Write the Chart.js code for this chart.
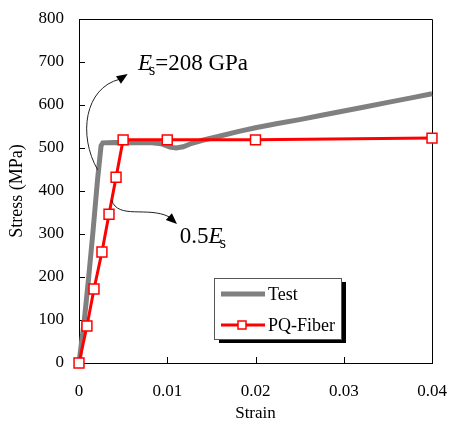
<!DOCTYPE html>
<html>
<head>
<meta charset="utf-8">
<script src="https://cdn.jsdelivr.net/npm/chart.js@4.4.1/dist/chart.umd.min.js"></script>
<style>
    body { margin: 0; background: #fff; }
    #wrap { width: 451px; height: 424px; }
</style>
</head>
<body>
<div id="wrap"><canvas id="stressStrainChart" width="451" height="424"></canvas></div>
<script>
// Test curve
const testStrain = [0, 0.0003, 0.00057, 0.0011, 0.0016, 0.0021, 0.0025, 0.0027, 0.004, 0.006, 0.008, 0.0093,
    0.0103, 0.011, 0.0118, 0.0128, 0.014, 0.016, 0.018, 0.02, 0.0225, 0.025, 0.0275, 0.03, 0.0325, 0.035,
    0.0375, 0.04, 0.0409];
const testStress = [0, 50, 93, 200, 309, 426, 505, 512, 513, 512, 513, 510,
    502, 500, 503, 511, 518, 528, 538, 547, 557, 566, 576, 586, 596, 606,
    616, 626, 630];

// PQ-Fiber model
const pqStrain = [0, 0.0009, 0.0017, 0.0026, 0.0034, 0.0042, 0.005, 0.01, 0.02, 0.04];
const pqStress = [0, 86, 172, 258, 346, 432, 519, 519, 519, 523];

const strainTicks = [0, 0.01, 0.02, 0.03, 0.04];
const stressTicks = [0, 100, 200, 300, 400, 500, 600, 700, 800];

const serif = "'Liberation Serif', 'Times New Roman', serif";
Chart.defaults.font.family = serif;
Chart.defaults.color = '#000';

// Annotation arrows, in data units (cubic curve + arrow tip)
const annotations = [
    {
        curve: [[0.00212, 449], [-0.00015, 530], [0.00065, 640], [0.00462, 660]],
        tip: [0.00552, 672],
        text: { at: [0.00668, 682], before: '', italic: 'E', sub: 's', after: '=208 GPa' }
    },
    {
        curve: [[0.0037, 379], [0.0044, 333], [0.0078, 365], [0.0102, 340]],
        tip: [0.0111, 323],
        text: { at: [0.01143, 279], before: '0.5', italic: 'E', sub: 's', after: '' }
    }
];

function toPx(chart, p) {
    return [chart.scales.x.getPixelForValue(p[0]), chart.scales.y.getPixelForValue(p[1])];
}

// Frame and inward ticks
const framePlugin = {
    id: 'frame',
    beforeDatasetsDraw(chart) {
        const { ctx, chartArea: a, scales } = chart;
        ctx.save();
        ctx.strokeStyle = '#000';
        ctx.lineWidth = 1;
        ctx.beginPath();
        ctx.moveTo(a.left, a.top + 0.5);
        ctx.lineTo(a.right + 0.5, a.top + 0.5);
        ctx.lineTo(a.right + 0.5, a.bottom);
        strainTicks.forEach(v => {
            const x = Math.round(scales.x.getPixelForValue(v)) + 0.5;
            ctx.moveTo(x, a.bottom);
            ctx.lineTo(x, a.bottom - 6);
        });
        stressTicks.forEach(v => {
            const y = Math.round(scales.y.getPixelForValue(v)) + 0.5;
            ctx.moveTo(a.left, y);
            ctx.lineTo(a.left + 6, y);
        });
        ctx.stroke();
        ctx.restore();
    }
};

function drawModulusText(ctx, x, y, t) {
    ctx.textBaseline = 'alphabetic';
    ctx.textAlign = 'left';
    ctx.font = '23px ' + serif;
    ctx.fillText(t.before, x, y);
    x += ctx.measureText(t.before).width;
    ctx.font = 'italic 23px ' + serif;
    ctx.fillText(t.italic, x, y);
    x += ctx.measureText(t.italic).width - 3;
    ctx.font = '16px ' + serif;
    ctx.fillText(t.sub, x, y + 5);
    x += ctx.measureText(t.sub).width;
    ctx.font = '23px ' + serif;
    ctx.fillText(t.after, x, y);
}

// Arrows, labels and the boxed legend
const annotationPlugin = {
    id: 'notes',
    afterDraw(chart) {
        const { ctx, chartArea: a } = chart;
        ctx.save();
        annotations.forEach(n => {
            const pts = n.curve.map(p => toPx(chart, p));
            const tip = toPx(chart, n.tip);
            ctx.strokeStyle = '#222';
            ctx.lineWidth = 1;
            ctx.beginPath();
            ctx.moveTo(pts[0][0], pts[0][1]);
            ctx.bezierCurveTo(pts[1][0], pts[1][1], pts[2][0], pts[2][1], pts[3][0], pts[3][1]);
            ctx.stroke();

            const dx = tip[0] - pts[3][0], dy = tip[1] - pts[3][1];
            const len = Math.hypot(dx, dy);
            const ux = dx / len, uy = dy / len;
            const bx = tip[0] - ux * 11, by = tip[1] - uy * 11;
            ctx.fillStyle = '#000';
            ctx.beginPath();
            ctx.moveTo(tip[0], tip[1]);
            ctx.lineTo(bx - uy * 4.5, by + ux * 4.5);
            ctx.lineTo(bx + uy * 4.5, by - ux * 4.5);
            ctx.closePath();
            ctx.fill();

            const tp = toPx(chart, n.text.at);
            ctx.fillStyle = '#000';
            drawModulusText(ctx, tp[0], tp[1], n.text);
        });

        // legend box with drop shadow
        const lx = a.left + 135, ly = a.top + 259, lw = 127, lh = 61;
        ctx.fillStyle = '#000';
        ctx.fillRect(lx + 5, ly + 4, lw, lh);
        ctx.fillStyle = '#fff';
        ctx.fillRect(lx, ly, lw, lh);
        ctx.strokeStyle = '#555';
        ctx.lineWidth = 1;
        ctx.strokeRect(lx + 0.5, ly + 0.5, lw, lh);

        ctx.font = '18px ' + serif;
        ctx.textBaseline = 'middle';
        ctx.textAlign = 'left';
        chart.data.datasets.forEach((ds, i) => {
            const y = ly + 16 + i * 31;
            ctx.strokeStyle = ds.borderColor;
            ctx.lineWidth = ds.borderWidth;
            ctx.beginPath();
            ctx.moveTo(lx + 7, y);
            ctx.lineTo(lx + 51, y);
            ctx.stroke();
            if (ds.pointRadius > 0) {
                ctx.fillStyle = '#fff';
                ctx.lineWidth = 1.5;
                ctx.fillRect(lx + 24, y - 4, 8, 8);
                ctx.strokeRect(lx + 24, y - 4, 8, 8);
            }
            ctx.fillStyle = '#000';
            ctx.fillText(ds.label, lx + 54, y + 1);
        });
        ctx.restore();
    }
};

new Chart(document.getElementById('stressStrainChart'), {
    type: 'line',
    data: {
        datasets: [
            {
                label: 'Test',
                data: testStrain.map((x, i) => ({ x, y: testStress[i] })),
                borderColor: 'rgb(128, 128, 128)',
                borderWidth: 5,
                pointRadius: 0,
                tension: 0,
                clip: false,
                order: 2
            },
            {
                label: 'PQ-Fiber',
                data: pqStrain.map((x, i) => ({ x, y: pqStress[i] })),
                borderColor: 'rgb(255, 0, 0)',
                borderWidth: 3,
                pointStyle: 'rect',
                pointRadius: 7,
                pointBorderWidth: 1.5,
                pointBackgroundColor: '#fff',
                pointBorderColor: 'rgb(255, 0, 0)',
                tension: 0,
                clip: false,
                order: 1
            }
        ]
    },
    options: {
        responsive: false,
        animation: false,
        layout: { padding: { left: 0, top: 19, right: 19, bottom: 0 } },
        plugins: {
            legend: { display: false },
            tooltip: { enabled: false }
        },
        scales: {
            x: {
                type: 'linear',
                min: 0,
                max: 0.04,
                afterBuildTicks: scale => { scale.ticks = strainTicks.map(v => ({ value: v })); },
                afterFit: scale => {
                    scale.height = 61;
                    scale.paddingLeft = 0;
                    scale.paddingRight = 0;
                },
                grid: { drawOnChartArea: false, drawTicks: false },
                border: { color: '#000', width: 1 },
                ticks: { font: { size: 17 }, padding: 18, maxRotation: 0, callback: v => String(v) },
                title: { display: true, text: 'Strain', font: { size: 17 }, padding: { top: 0, bottom: 0 } }
            },
            y: {
                min: 0,
                max: 800,
                afterBuildTicks: scale => { scale.ticks = stressTicks.map(v => ({ value: v })); },
                afterFit: scale => {
                    scale.width = 79;
                    scale.paddingTop = 0;
                    scale.paddingBottom = 0;
                },
                grid: { drawOnChartArea: false, drawTicks: false },
                border: { color: '#000', width: 1 },
                ticks: { font: { size: 17 }, padding: 15 },
                title: { display: true, text: 'Stress (MPa)', font: { size: 18 }, padding: { top: 6, bottom: 0 } }
            }
        }
    },
    plugins: [framePlugin, annotationPlugin]
});
</script>
</body>
</html>
